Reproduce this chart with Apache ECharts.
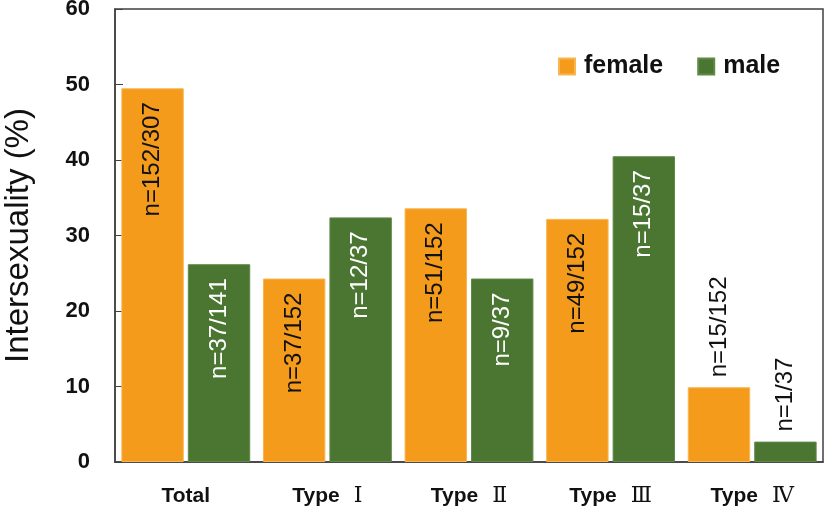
<!DOCTYPE html>
<html>
<head>
<meta charset="utf-8">
<script src="https://cdn.jsdelivr.net/npm/echarts@6/dist/echarts.min.js"></script>
<style>
html,body{margin:0;padding:0;background:#fff;}
#chart{width:827px;height:509px;}
</style>
</head>
<body>
<div id="chart"></div>
<script>
var categories = ['Total', 'Type \u2160', 'Type \u2161', 'Type \u2162', 'Type \u2163'];
var femaleValues = [49.5, 24.3, 33.6, 32.2, 9.9];
var maleValues = [26.2, 32.4, 24.3, 40.5, 2.7];
var femaleLabels = ['n=152/307', 'n=37/152', 'n=51/152', 'n=49/152', 'n=15/152'];
var maleLabels = ['n=37/141', 'n=12/37', 'n=9/37', 'n=15/37', 'n=1/37'];
var yTicks = [0, 10, 20, 30, 40, 50, 60];

var ORANGE = '#F49B1C';
var GREEN = '#4A7631';

function buildData(values, labels, insideColor) {
  return values.map(function (v, i) {
    var outside = v < 15;
    return {
      value: v,
      label: {
        show: true,
        formatter: labels[i],
        rotate: 90,
        position: outside ? 'top' : 'insideTop',
        distance: outside ? 10 : 14,
        align: outside ? 'left' : 'right',
        verticalAlign: 'middle',
        color: outside ? '#111' : insideColor,
        fontFamily: 'Liberation Sans, Arial, sans-serif',
        fontSize: 24
      }
    };
  });
}

var chart = echarts.init(document.getElementById('chart'), null, {renderer: 'canvas'});
chart.setOption({
  animation: false,
  backgroundColor: '#fff',
  grid: {
    left: 115, right: 4, top: 9, bottom: 47,
    outerBoundsMode: 'none',
    containLabel: false,
    show: true, borderColor: '#404040', borderWidth: 1.5, backgroundColor: 'transparent'
  },
  legend: {
    data: ['female', 'male'],
    left: 553, top: 49,
    itemWidth: 16, itemHeight: 16, itemGap: 34,
    icon: 'rect',
    textStyle: {
      fontFamily: 'Liberation Sans, Arial, sans-serif',
      fontWeight: 'bold', fontSize: 25, color: '#111',
      padding: [0, 0, 0, 4]
    }
  },
  xAxis: {
    type: 'category',
    data: categories,
    axisLine: {lineStyle: {color: '#404040', width: 1.5}},
    axisTick: {inside: true, length: 6, lineStyle: {color: '#404040'}},
    axisLabel: {
      margin: 22,
      formatter: function (val) {
        var parts = val.split(' ');
        if (parts.length === 1) return '{a|' + val + '}';
        return '{a|' + parts[0] + '}{r|  ' + parts[1] + '}';
      },
      rich: {
        a: {fontFamily: 'Liberation Sans, Arial, sans-serif', fontWeight: 'bold', fontSize: 21, color: '#111', lineHeight: 24},
        r: {fontFamily: 'DejaVu Serif, Liberation Serif, serif', fontSize: 22, color: '#111', lineHeight: 24}
      }
    }
  },
  yAxis: {
    type: 'value',
    min: yTicks[0], max: yTicks[yTicks.length - 1], interval: 10,
    name: 'Intersexuality (%)',
    nameLocation: 'middle',
    nameRotate: 90,
    nameGap: 80,
    nameTextStyle: {fontFamily: 'Liberation Sans, Arial, sans-serif', fontSize: 33, color: '#111'},
    axisLine: {show: true, lineStyle: {color: '#404040', width: 1.5}},
    axisTick: {show: true, inside: true, length: 8, lineStyle: {color: '#404040'}},
    splitLine: {show: false},
    axisLabel: {
      margin: 25,
      fontFamily: 'Liberation Sans, Arial, sans-serif',
      fontWeight: 'bold', fontSize: 22, color: '#111'
    }
  },
  series: [
    {
      name: 'female', type: 'bar',
      data: buildData(femaleValues, femaleLabels, '#111'),
      itemStyle: {color: ORANGE, borderColor: '#F8B552', borderWidth: 1},
      barGap: '6.5%', barCategoryGap: '9%'
    },
    {
      name: 'male', type: 'bar',
      data: buildData(maleValues, maleLabels, '#fff'),
      itemStyle: {color: GREEN, borderColor: '#5E8A45', borderWidth: 1},
      barGap: '6.5%', barCategoryGap: '9%'
    }
  ]
});
</script>
</body>
</html>
